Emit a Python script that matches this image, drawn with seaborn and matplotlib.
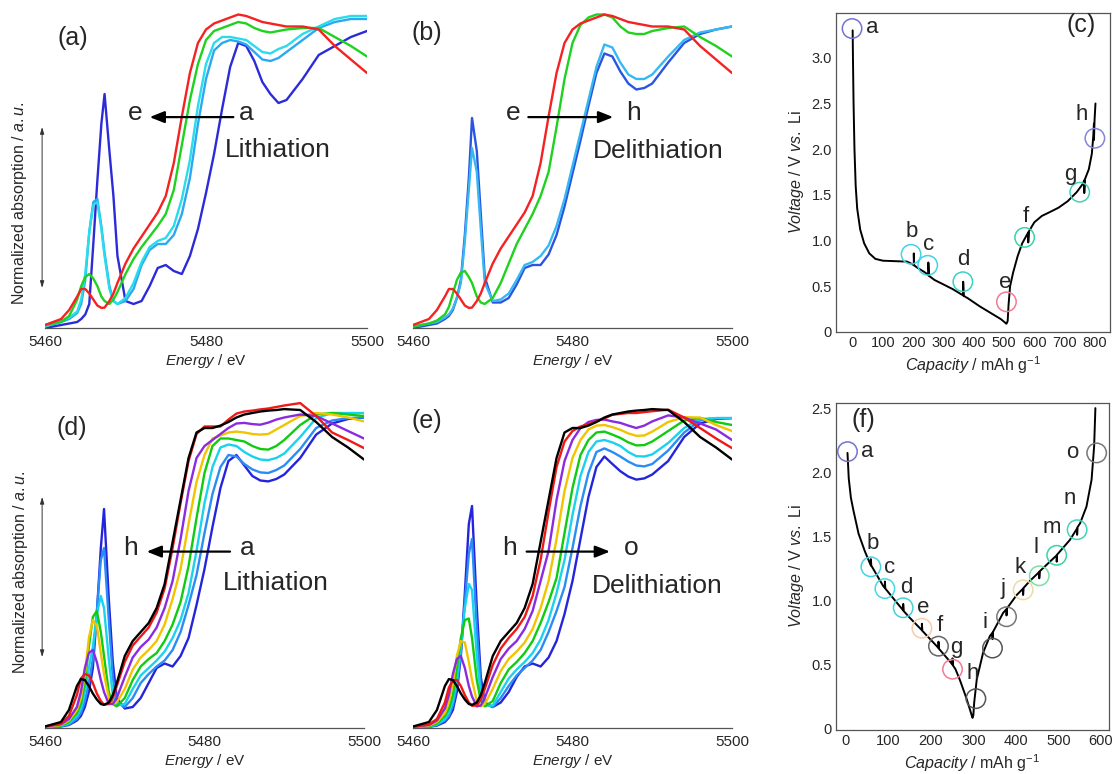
import numpy as np
import pandas as pd
import matplotlib
matplotlib.use("Agg")
import matplotlib.pyplot as plt
import seaborn as sns
from matplotlib.ticker import MultipleLocator, FuncFormatter

# ---------------- XANES spectra (normalized absorption) ----------------
energy_ev = [5460, 5462, 5463, 5464, 5464.5, 5465, 5465.5, 5466, 5466.5, 5467,
             5467.4, 5468, 5468.5, 5469, 5470, 5471, 5472, 5473, 5474, 5475,
             5476, 5477, 5478, 5479, 5480, 5481, 5482, 5483, 5484, 5485,
             5486, 5487, 5488, 5489, 5490, 5492, 5494, 5496, 5498, 5500]

# first cycle: a-e lithiation, e-h delithiation
mu_a1 = [0.00, 0.01, 0.015, 0.02, 0.03, 0.045, 0.08, 0.28, 0.49, 0.68,
         0.78, 0.59, 0.44, 0.24, 0.09, 0.08, 0.09, 0.14, 0.20, 0.21,
         0.19, 0.18, 0.24, 0.33, 0.45, 0.58, 0.73, 0.87, 0.95, 0.94,
         0.89, 0.82, 0.78, 0.75, 0.76, 0.83, 0.91, 0.94, 0.97, 0.99]
mu_b1 = [0.005, 0.02, 0.03, 0.05, 0.08, 0.16, 0.32, 0.42, 0.43, 0.34,
         0.25, 0.14, 0.09, 0.08, 0.09, 0.13, 0.21, 0.26, 0.28, 0.28,
         0.31, 0.38, 0.50, 0.68, 0.83, 0.925, 0.95, 0.96, 0.955, 0.945,
         0.92, 0.895, 0.89, 0.90, 0.92, 0.96, 1.00, 1.02, 1.03, 1.03]
mu_c1 = [0.005, 0.025, 0.035, 0.055, 0.095, 0.18, 0.32, 0.41, 0.42, 0.33,
         0.24, 0.13, 0.09, 0.08, 0.10, 0.15, 0.22, 0.27, 0.29, 0.30,
         0.34, 0.43, 0.56, 0.74, 0.88, 0.95, 0.97, 0.97, 0.965, 0.96,
         0.94, 0.92, 0.915, 0.93, 0.94, 0.98, 1.005, 1.03, 1.04, 1.04]
mu_d1 = [0.01, 0.02, 0.04, 0.095, 0.14, 0.17, 0.18, 0.165, 0.14, 0.105,
         0.09, 0.08, 0.095, 0.12, 0.18, 0.23, 0.27, 0.305, 0.34, 0.38,
         0.46, 0.61, 0.76, 0.88, 0.96, 0.99, 1.00, 1.01, 1.02, 1.015,
         1.00, 0.99, 0.985, 0.99, 0.995, 1.00, 1.00, 0.97, 0.94, 0.905]
mu_e1 = [0.01, 0.03, 0.06, 0.105, 0.13, 0.13, 0.115, 0.095, 0.075, 0.067,
         0.068, 0.09, 0.115, 0.15, 0.215, 0.265, 0.305, 0.345, 0.385, 0.44,
         0.55, 0.705, 0.85, 0.95, 0.995, 1.015, 1.025, 1.035, 1.045, 1.04,
         1.03, 1.02, 1.015, 1.01, 1.005, 1.005, 0.995, 0.94, 0.895, 0.85]
mu_f1 = [0.005, 0.015, 0.025, 0.045, 0.07, 0.115, 0.16, 0.185, 0.19, 0.17,
         0.15, 0.105, 0.085, 0.08, 0.10, 0.15, 0.215, 0.28, 0.33, 0.38,
         0.44, 0.52, 0.67, 0.83, 0.95, 1.01, 1.035, 1.045, 1.045, 1.035,
         1.005, 0.985, 0.98, 0.98, 0.99, 1.00, 1.005, 0.97, 0.94, 0.905]
mu_g1 = [0.005, 0.015, 0.02, 0.035, 0.045, 0.065, 0.10, 0.15, 0.29, 0.46,
         0.60, 0.52, 0.33, 0.15, 0.09, 0.095, 0.115, 0.16, 0.21, 0.22,
         0.24, 0.275, 0.34, 0.43, 0.54, 0.65, 0.76, 0.87, 0.945, 0.935,
         0.885, 0.845, 0.83, 0.83, 0.845, 0.905, 0.96, 0.985, 0.995, 1.005]
mu_h1 = [0.00, 0.01, 0.015, 0.03, 0.04, 0.06, 0.10, 0.16, 0.31, 0.50,
         0.70, 0.59, 0.38, 0.17, 0.085, 0.085, 0.10, 0.145, 0.20, 0.21,
         0.21, 0.245, 0.31, 0.405, 0.515, 0.625, 0.74, 0.85, 0.915, 0.905,
         0.855, 0.815, 0.795, 0.80, 0.815, 0.885, 0.95, 0.98, 0.995, 1.005]

# second cycle: a-h lithiation, h-o delithiation
mu_a2 = [0.002, 0.005, 0.01, 0.025, 0.04, 0.07, 0.12, 0.20, 0.38, 0.60,
         0.73, 0.43, 0.22, 0.10, 0.065, 0.07, 0.10, 0.15, 0.20, 0.215,
         0.205, 0.24, 0.30, 0.41, 0.53, 0.67, 0.80, 0.89, 0.91, 0.875,
         0.84, 0.825, 0.822, 0.83, 0.845, 0.90, 0.978, 1.015, 1.03, 1.035]
mu_b2 = [0.002, 0.006, 0.012, 0.03, 0.05, 0.09, 0.15, 0.23, 0.39, 0.56,
         0.60, 0.36, 0.17, 0.085, 0.07, 0.10, 0.15, 0.18, 0.205, 0.225,
         0.26, 0.32, 0.41, 0.51, 0.65, 0.78, 0.87, 0.91, 0.905, 0.88,
         0.862, 0.852, 0.85, 0.86, 0.875, 0.93, 1.00, 1.025, 1.033, 1.035]
mu_c2 = [0.003, 0.007, 0.015, 0.04, 0.065, 0.12, 0.20, 0.27, 0.38, 0.44,
         0.40, 0.23, 0.11, 0.075, 0.08, 0.13, 0.175, 0.20, 0.225, 0.255,
         0.30, 0.36, 0.45, 0.59, 0.75, 0.87, 0.935, 0.945, 0.94, 0.92,
         0.905, 0.895, 0.893, 0.90, 0.915, 0.97, 1.033, 1.05, 1.05, 1.05]
mu_d2 = [0.003, 0.008, 0.02, 0.05, 0.08, 0.15, 0.27, 0.37, 0.39, 0.32,
         0.24, 0.12, 0.08, 0.072, 0.10, 0.16, 0.205, 0.23, 0.25, 0.29,
         0.345, 0.42, 0.54, 0.70, 0.85, 0.94, 0.965, 0.965, 0.96, 0.955,
         0.94, 0.93, 0.928, 0.94, 0.96, 1.01, 1.045, 1.05, 1.045, 1.04]
mu_e2 = [0.003, 0.01, 0.025, 0.06, 0.10, 0.18, 0.30, 0.36, 0.34, 0.25,
         0.18, 0.10, 0.08, 0.085, 0.13, 0.195, 0.235, 0.26, 0.29, 0.345,
         0.43, 0.53, 0.68, 0.82, 0.91, 0.965, 0.975, 0.985, 0.988, 0.985,
         0.98, 0.978, 0.98, 0.995, 1.01, 1.04, 1.05, 1.045, 1.035, 1.022]
mu_f2 = [0.005, 0.012, 0.03, 0.07, 0.12, 0.20, 0.25, 0.26, 0.22, 0.16,
         0.12, 0.08, 0.08, 0.10, 0.17, 0.235, 0.27, 0.295, 0.335, 0.40,
         0.49, 0.63, 0.79, 0.90, 0.94, 0.96, 0.98, 1.00, 1.015, 1.017,
         1.013, 1.011, 1.018, 1.028, 1.035, 1.045, 1.04, 1.015, 0.99, 0.965]
mu_g2 = [0.005, 0.015, 0.04, 0.11, 0.165, 0.18, 0.175, 0.15, 0.115, 0.09,
         0.078, 0.08, 0.10, 0.14, 0.22, 0.275, 0.305, 0.335, 0.385, 0.465,
         0.60, 0.75, 0.89, 0.98, 1.005, 1.005, 1.005, 1.028, 1.048, 1.055,
         1.058, 1.062, 1.065, 1.07, 1.075, 1.083, 1.04, 0.985, 0.96, 0.933]
mu_h2 = [0.005, 0.02, 0.06, 0.14, 0.163, 0.16, 0.14, 0.115, 0.095, 0.08,
         0.077, 0.085, 0.11, 0.15, 0.24, 0.29, 0.32, 0.35, 0.40, 0.48,
         0.62, 0.76, 0.90, 0.985, 1.00, 1.00, 1.008, 1.02, 1.035, 1.045,
         1.05, 1.055, 1.058, 1.06, 1.063, 1.06, 1.02, 0.97, 0.935, 0.895]
mu_i2 = [0.004, 0.012, 0.03, 0.085, 0.135, 0.158, 0.16, 0.14, 0.11, 0.085,
         0.074, 0.075, 0.095, 0.13, 0.21, 0.265, 0.30, 0.33, 0.37, 0.44,
         0.56, 0.72, 0.87, 0.955, 0.99, 1.005, 1.013, 1.022, 1.032, 1.044,
         1.047, 1.05, 1.05, 1.053, 1.056, 1.061, 1.035, 1.00, 0.965, 0.933]
mu_j2 = [0.004, 0.01, 0.025, 0.065, 0.11, 0.18, 0.23, 0.24, 0.20, 0.14,
         0.105, 0.072, 0.075, 0.10, 0.17, 0.23, 0.265, 0.29, 0.33, 0.39,
         0.49, 0.59, 0.76, 0.89, 0.96, 1.00, 1.02, 1.027, 1.028, 1.022,
         1.017, 1.008, 1.00, 1.008, 1.022, 1.042, 1.035, 1.015, 0.995, 0.96]
mu_k2 = [0.003, 0.008, 0.02, 0.05, 0.085, 0.15, 0.24, 0.29, 0.285, 0.22,
         0.16, 0.09, 0.072, 0.08, 0.13, 0.19, 0.23, 0.255, 0.285, 0.33,
         0.40, 0.49, 0.63, 0.79, 0.90, 0.96, 0.995, 1.008, 1.01, 1.003,
         0.994, 0.982, 0.974, 0.975, 0.988, 1.02, 1.036, 1.035, 1.01, 0.99]
mu_l2 = [0.003, 0.006, 0.015, 0.04, 0.065, 0.11, 0.20, 0.30, 0.36, 0.365,
         0.30, 0.16, 0.09, 0.072, 0.09, 0.15, 0.195, 0.22, 0.25, 0.29,
         0.35, 0.42, 0.50, 0.65, 0.80, 0.91, 0.96, 0.985, 0.988, 0.978,
         0.967, 0.952, 0.942, 0.943, 0.955, 0.99, 1.025, 1.033, 1.02, 1.01]
mu_m2 = [0.002, 0.005, 0.012, 0.03, 0.05, 0.09, 0.16, 0.27, 0.40, 0.48,
         0.46, 0.24, 0.11, 0.075, 0.075, 0.12, 0.165, 0.195, 0.22, 0.25,
         0.295, 0.36, 0.45, 0.56, 0.71, 0.84, 0.92, 0.955, 0.96, 0.952,
         0.94, 0.92, 0.906, 0.905, 0.912, 0.95, 1.00, 1.03, 1.033, 1.033]
mu_n2 = [0.002, 0.004, 0.01, 0.025, 0.04, 0.075, 0.14, 0.25, 0.42, 0.58,
         0.63, 0.33, 0.14, 0.08, 0.07, 0.10, 0.14, 0.175, 0.20, 0.225,
         0.26, 0.32, 0.39, 0.47, 0.60, 0.74, 0.85, 0.92, 0.932, 0.92,
         0.905, 0.888, 0.875, 0.872, 0.88, 0.925, 0.985, 1.025, 1.033, 1.033]
mu_o2 = [0.002, 0.004, 0.008, 0.02, 0.035, 0.06, 0.12, 0.24, 0.45, 0.68,
         0.74, 0.40, 0.17, 0.085, 0.07, 0.085, 0.12, 0.17, 0.205, 0.215,
         0.205, 0.235, 0.29, 0.38, 0.49, 0.63, 0.77, 0.87, 0.905, 0.88,
         0.856, 0.838, 0.828, 0.832, 0.845, 0.89, 0.97, 1.015, 1.03, 1.033]

spectra = {
    "a1": mu_a1, "b1": mu_b1, "c1": mu_c1, "d1": mu_d1, "e1": mu_e1,
    "f1": mu_f1, "g1": mu_g1, "h1": mu_h1,
    "a2": mu_a2, "b2": mu_b2, "c2": mu_c2, "d2": mu_d2, "e2": mu_e2,
    "f2": mu_f2, "g2": mu_g2, "h2": mu_h2, "i2": mu_i2, "j2": mu_j2,
    "k2": mu_k2, "l2": mu_l2, "m2": mu_m2, "n2": mu_n2, "o2": mu_o2,
}

spec_colors = {
    "a1": "#2B2BD9", "b1": "#2AA9F2", "c1": "#2ADCEB", "d1": "#1FD21F",
    "e1": "#F52222", "f1": "#1FD21F", "g1": "#38B8F2", "h1": "#2A55E0",
    "a2": "#2424DD", "b2": "#2A8CF5", "c2": "#19D2EE", "d2": "#10CC10",
    "e2": "#F2C400", "f2": "#8A2BE2", "g2": "#F01818", "h2": "#000000",
    "i2": "#F01818", "j2": "#8A2BE2", "k2": "#F2C400", "l2": "#10CC10",
    "m2": "#19D2EE", "n2": "#2A8CF5", "o2": "#2424DD",
}

# ---------------- galvanostatic curves ----------------
# first cycle (with relaxation spikes at the XAS measurement points)
cap_c = [0, 1, 3, 6, 10, 15, 25, 38, 55, 75, 100, 140, 180, 195, 202, 202, 203,
         215, 235, 248, 250, 250, 252, 270, 300, 330, 360, 365, 365, 367, 380,
         420, 460, 490, 508, 512, 515, 520, 530, 545, 560, 575, 580, 580, 582,
         600, 625, 650, 680, 710, 740, 760, 765, 765, 767, 780, 790, 795, 797,
         797, 799, 802]
volt_c = [3.30, 3.0, 2.5, 2.0, 1.6, 1.35, 1.12, 0.97, 0.86, 0.80, 0.78, 0.775,
          0.77, 0.745, 0.73, 0.86, 0.73, 0.70, 0.66, 0.63, 0.62, 0.76, 0.615,
          0.57, 0.52, 0.47, 0.41, 0.40, 0.55, 0.395, 0.37, 0.28, 0.20, 0.14,
          0.09, 0.12, 0.30, 0.50, 0.65, 0.83, 0.97, 1.06, 1.09, 0.98, 1.10,
          1.20, 1.27, 1.31, 1.36, 1.43, 1.53, 1.62, 1.66, 1.52, 1.67, 1.78,
          1.95, 2.15, 2.28, 2.10, 2.32, 2.50]
labels_c = list("abcdefgh")
point_cap_c = [-2, 193, 248, 364, 508, 568, 750, 800]
point_volt_c = [3.32, 0.85, 0.73, 0.55, 0.33, 1.035, 1.53, 2.12]
point_colors_c = ["#7373D6", "#45D2E6", "#45D2E6", "#36D4C4", "#F27A92",
                  "#36D4A8", "#45D2B8", "#8585DA"]

# second cycle
cap_f = [4, 7, 12, 18, 30, 45, 59, 59, 60, 88, 92, 92, 93, 120, 135, 135, 136,
         151, 179, 179, 180, 214, 218, 218, 219, 245, 251, 251, 252, 258, 269,
         284, 298, 300, 302, 308, 323, 339, 345, 345, 346, 370, 378, 378, 379,
         402, 417, 417, 418, 433, 455, 455, 456, 464, 496, 496, 497, 527, 544,
         544, 545, 551, 566, 578, 584, 587]
volt_f = [2.15, 1.95, 1.80, 1.70, 1.52, 1.38, 1.27, 1.32, 1.27, 1.11, 1.095,
          1.145, 1.09, 0.98, 0.92, 0.97, 0.915, 0.86, 0.765, 0.815, 0.76, 0.64,
          0.625, 0.675, 0.62, 0.52, 0.495, 0.545, 0.49, 0.46, 0.37, 0.23, 0.08,
          0.10, 0.20, 0.38, 0.59, 0.72, 0.745, 0.695, 0.75, 0.90, 0.93, 0.88,
          0.935, 1.04, 1.09, 1.04, 1.095, 1.15, 1.22, 1.17, 1.225, 1.25, 1.35,
          1.30, 1.355, 1.47, 1.56, 1.51, 1.57, 1.60, 1.73, 1.94, 2.20, 2.50]
labels_f = list("abcdefghijklmno")
point_cap_f = [4, 59, 92, 135, 179, 218, 251, 306, 345, 378, 417, 455, 496, 544, 590]
point_volt_f = [2.16, 1.26, 1.09, 0.94, 0.78, 0.64, 0.46, 0.23, 0.625, 0.87,
                1.08, 1.19, 1.35, 1.55, 2.15]
point_colors_f = ["#7373CC", "#45D2E6", "#45D8E6", "#45D2D6", "#F5CDA8",
                  "#666666", "#F27A92", "#555555", "#555555", "#777777",
                  "#EADCA6", "#7ADFA8", "#36D4A8", "#45D2B8", "#777777"]

# ---------------- styling ----------------
sns.set_style("white")
plt.rcParams["font.family"] = ["Liberation Sans", "DejaVu Sans"]
plt.rcParams["mathtext.fontset"] = "custom"
plt.rcParams["mathtext.rm"] = "Liberation Sans"
plt.rcParams["mathtext.it"] = "Liberation Sans:italic"
plt.rcParams["mathtext.bf"] = "Liberation Sans:bold"

W, H = 1113, 774
fig = plt.figure(figsize=(W / 100, H / 100), dpi=100)


def box(left, top, right, bottom):
    return [left / W, 1 - bottom / H, (right - left) / W, (bottom - top) / H]


ax_a = fig.add_axes(box(45, 10, 367, 328))
ax_b = fig.add_axes(box(413, 10, 732, 328))
ax_c = fig.add_axes(box(836, 13, 1110, 332))
ax_d = fig.add_axes(box(45, 395, 364, 728))
ax_e = fig.add_axes(box(413, 395, 732, 728))
ax_f = fig.add_axes(box(836, 403, 1109, 730))

AXIS_GREY = "#555555"
TXT = 19


def spectrum_panel(ax, keys, ymax):
    frame = pd.DataFrame({
        "energy": np.tile(energy_ev, len(keys)),
        "mu": np.concatenate([spectra[k] for k in keys]),
        "state": np.repeat(keys, len(energy_ev)),
    })
    sns.lineplot(data=frame, x="energy", y="mu", hue="state", hue_order=keys,
                 palette={k: spec_colors[k] for k in keys}, estimator=None,
                 sort=False, legend=False, linewidth=1.7, ax=ax)
    ax.set_xlim(5460, 5500)
    ax.set_ylim(0, ymax)
    for s in ("left", "top", "right"):
        ax.spines[s].set_visible(False)
    ax.spines["bottom"].set_color(AXIS_GREY)
    ax.spines["bottom"].set_linewidth(0.9)
    ax.set_yticks([])
    ax.set_xticks([5460, 5480, 5500])
    ax.xaxis.set_minor_locator(MultipleLocator(2))
    ax.tick_params(axis="x", which="major", direction="in", length=9,
                   width=0.8, color=AXIS_GREY, labelsize=11, pad=5)
    ax.tick_params(axis="x", which="minor", direction="in", length=4.5,
                   width=0.7, color=AXIS_GREY)
    ax.set_xlabel(r"$\mathit{Energy}$ / eV", fontsize=11, labelpad=2)
    ax.set_ylabel("")
    ax.patch.set_alpha(0)


def process_arrow(ax, tail, head, y):
    ax.annotate("", xy=(head, y), xytext=(tail, y),
                arrowprops=dict(arrowstyle="-|>,head_length=0.55,head_width=0.22",
                                lw=1.6, color="k", shrinkA=0, shrinkB=0,
                                mutation_scale=16))


def absorption_axis(ax, y0, y1, ytext):
    ax.annotate("", xy=(-0.009, y1), xytext=(-0.009, y0),
                xycoords="axes fraction", textcoords="axes fraction",
                arrowprops=dict(arrowstyle="<|-|>,head_length=0.5,head_width=0.15",
                                lw=0.7, color="#333333", shrinkA=0, shrinkB=0,
                                mutation_scale=8),
                annotation_clip=False)
    ax.text(-0.078, ytext, r"Normalized absorption / $\mathit{a.u.}$",
            rotation=90, transform=ax.transAxes, ha="center", va="center",
            fontsize=11.5)


# (a) first lithiation
spectrum_panel(ax_a, ["a1", "b1", "c1", "d1", "e1"], 1.06)
ax_a.text(5463.4, 0.966, "(a)", fontsize=18, ha="center", va="center")
ax_a.text(5471.2, 0.693, "e", fontsize=TXT, ha="center", va="baseline")
ax_a.text(5485.05, 0.693, "a", fontsize=TXT, ha="center", va="baseline")
process_arrow(ax_a, 5483.4, 5473.0, 0.703)
ax_a.text(5482.36, 0.571, "Lithiation", fontsize=TXT, ha="left", va="baseline")
absorption_axis(ax_a, 0.126, 0.632, 0.393)

# (b) first delithiation
spectrum_panel(ax_b, ["h1", "g1", "f1", "e1"], 1.06)
ax_b.text(5461.7, 0.982, "(b)", fontsize=18, ha="center", va="center")
ax_b.text(5472.58, 0.693, "e", fontsize=TXT, ha="center", va="baseline")
ax_b.text(5487.63, 0.693, "h", fontsize=TXT, ha="center", va="baseline")
process_arrow(ax_b, 5474.46, 5485.1, 0.703)
ax_b.text(5482.6, 0.566, "Delithiation", fontsize=TXT, ha="left", va="baseline")

# (d) second lithiation
spectrum_panel(ax_d, ["a2", "b2", "c2", "d2", "e2", "f2", "g2", "h2"], 1.11)
ax_d.text(5463.4, 1.0, "(d)", fontsize=18, ha="center", va="center")
ax_d.text(5470.66, 0.577, "h", fontsize=TXT, ha="center", va="baseline")
ax_d.text(5485.3, 0.577, "a", fontsize=TXT, ha="center", va="baseline")
process_arrow(ax_d, 5483.2, 5472.75, 0.588)
ax_d.text(5482.3, 0.46, "Lithiation", fontsize=TXT, ha="left", va="baseline")
absorption_axis(ax_d, 0.213, 0.694, 0.468)

# (e) second delithiation
spectrum_panel(ax_e, ["o2", "n2", "m2", "l2", "k2", "j2", "i2", "h2"], 1.11)
ax_e.text(5461.7, 1.024, "(e)", fontsize=18, ha="center", va="center")
ax_e.text(5472.16, 0.577, "h", fontsize=TXT, ha="center", va="baseline")
ax_e.text(5487.4, 0.577, "o", fontsize=TXT, ha="center", va="baseline")
process_arrow(ax_e, 5474.25, 5484.7, 0.588)
ax_e.text(5482.4, 0.451, "Delithiation", fontsize=TXT, ha="left", va="baseline")


def voltage_panel(ax, cap, volt, pcap, pvolt, pcols, labels, offsets,
                  xlim, ylim, xmax_tick, ymax_tick):
    sns.lineplot(x=cap, y=volt, sort=False, estimator=None, color="k",
                 linewidth=1.4, ax=ax)
    ax.scatter(pcap, pvolt, s=14 ** 2, facecolors="none", edgecolors=pcols,
               linewidths=1.1, zorder=3, clip_on=False)
    for lab, xc, yc, (dx, dy) in zip(labels, pcap, pvolt, offsets):
        ax.annotate(lab, xy=(xc, yc), xytext=(dx, dy),
                    textcoords="offset points", ha="center", va="center",
                    fontsize=16)
    ax.set_xlim(*xlim)
    ax.set_ylim(*ylim)
    ax.set_xticks(np.arange(0, xmax_tick + 1, 100))
    ax.set_yticks(np.arange(0, ymax_tick + 0.01, 0.5))
    ax.xaxis.set_minor_locator(MultipleLocator(20))
    ax.yaxis.set_minor_locator(MultipleLocator(0.1))
    ax.yaxis.set_major_formatter(
        FuncFormatter(lambda v, _: "0" if abs(v) < 1e-9 else f"{v:.1f}"))
    ax.tick_params(which="major", direction="in", length=5, width=0.8,
                   color=AXIS_GREY, labelsize=10.5, pad=3)
    ax.tick_params(which="minor", direction="in", length=2.5, width=0.6,
                   color=AXIS_GREY)
    for s in ax.spines.values():
        s.set_color(AXIS_GREY)
        s.set_linewidth(0.9)
    ax.set_xlabel(r"$\mathit{Capacity}$ / mAh g$^{-1}$", fontsize=11.5,
                  labelpad=3)
    ax.set_ylabel(r"$\mathit{Voltage}$ / V $\mathit{vs.}$ Li", fontsize=11.5,
                  labelpad=4)


PX = 0.72  # points per pixel
offsets_c = [(20.6, 1), (0.6, 22.4), (1, 20.4), (0, 21.8), (-1.7, 18.9),
             (1.2, 20.5), (-9.9, 17.3), (-13, 23.4)]
offsets_c = [(dx * PX, dy * PX) for dx, dy in offsets_c]
voltage_panel(ax_c, cap_c, volt_c, point_cap_c, point_volt_c, point_colors_c,
              labels_c, offsets_c, (-55, 850), (0, 3.49), 800, 3.0)
ax_c.text(756, 3.36, "(c)", fontsize=18, ha="center", va="center")

offsets_f = [(19.3, 0), (2, 23.7), (5, 21.5), (3.6, 20.7), (1, 21), (1.3, 21),
             (4, 22), (-3, 25.6), (-7.6, 26), (-3.7, 28.6), (-3.2, 22.8),
             (-3.4, 28.7), (-4.8, 28.2), (-7, 31.6), (-24.8, 0)]
offsets_f = [(dx * PX, dy * PX) for dx, dy in offsets_f]
voltage_panel(ax_f, cap_f, volt_f, point_cap_f, point_volt_f, point_colors_f,
              labels_f, offsets_f, (-23, 619), (-0.015, 2.54), 600, 2.5)
ax_f.text(41, 2.41, "(f)", fontsize=18, ha="center", va="center")

fig.savefig("out.png", dpi=100)
